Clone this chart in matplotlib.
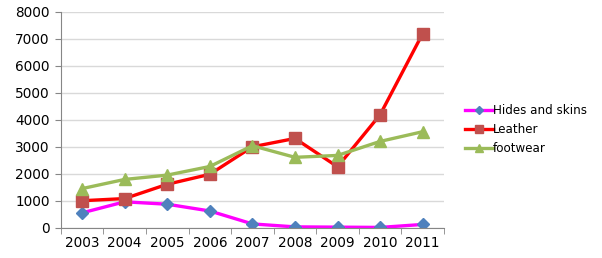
import numpy as np
import matplotlib
matplotlib.use('Agg')
import matplotlib.pyplot as plt
from matplotlib.ticker import FixedLocator

years = ['2003', '2004', '2005', '2006', '2007', '2008', '2009', '2010', '2011']
hides = [550, 960, 870, 620, 140, 30, 20, 10, 120]
leather = [1000, 1080, 1610, 1980, 3000, 3310, 2260, 4190, 7200]
footwear = [1450, 1790, 1950, 2270, 3040, 2610, 2680, 3200, 3560]

fig = plt.figure(figsize=(6.02, 2.58), dpi=100)
ax = fig.add_axes([0.101, 0.1175, 0.6365, 0.836])
x = np.arange(len(years))

ax.plot(x, hides, color='#FF00FF', lw=2.4, marker='D', ms=6,
        mfc='#4F81BD', mec='#4F81BD', label='Hides and skins')
ax.plot(x, leather, color='#FF0000', lw=2.4, marker='s', ms=8,
        mfc='#C0504D', mec='#C0504D', label='Leather')
ax.plot(x, footwear, color='#9BBB59', lw=2.4, marker='^', ms=8,
        mfc='#9BBB59', mec='#9BBB59', label='footwear')

ax.set_xlim(-0.5, len(years) - 0.5)
ax.set_ylim(0, 8000)
ax.set_yticks(range(0, 8001, 1000))
ax.set_xticks(x)
ax.set_xticklabels(years)
ax.xaxis.set_minor_locator(FixedLocator(np.arange(-0.5, len(years), 1.0)))
ax.tick_params(axis='x', which='major', length=0, labelsize=9.8, pad=6)
ax.tick_params(axis='x', which='minor', length=4, color='#868686')
ax.tick_params(axis='y', length=4, color='#868686', labelsize=9.8, pad=4)
ax.yaxis.grid(True, color='#D9D9D9', lw=1)
ax.set_axisbelow(True)
for s in ['top', 'right']:
    ax.spines[s].set_visible(False)
for s in ['left', 'bottom']:
    ax.spines[s].set_color('#868686')

# legend sits to the right, roughly level with the 3000-4000 band
fig.legend(loc='upper left', bbox_to_anchor=(0.765, 0.616), frameon=False,
           fontsize=8.6, handlelength=2.3, labelspacing=0.5, handletextpad=0.0,
           markerscale=0.7, borderaxespad=0)

fig.savefig('out.png', dpi=100)
